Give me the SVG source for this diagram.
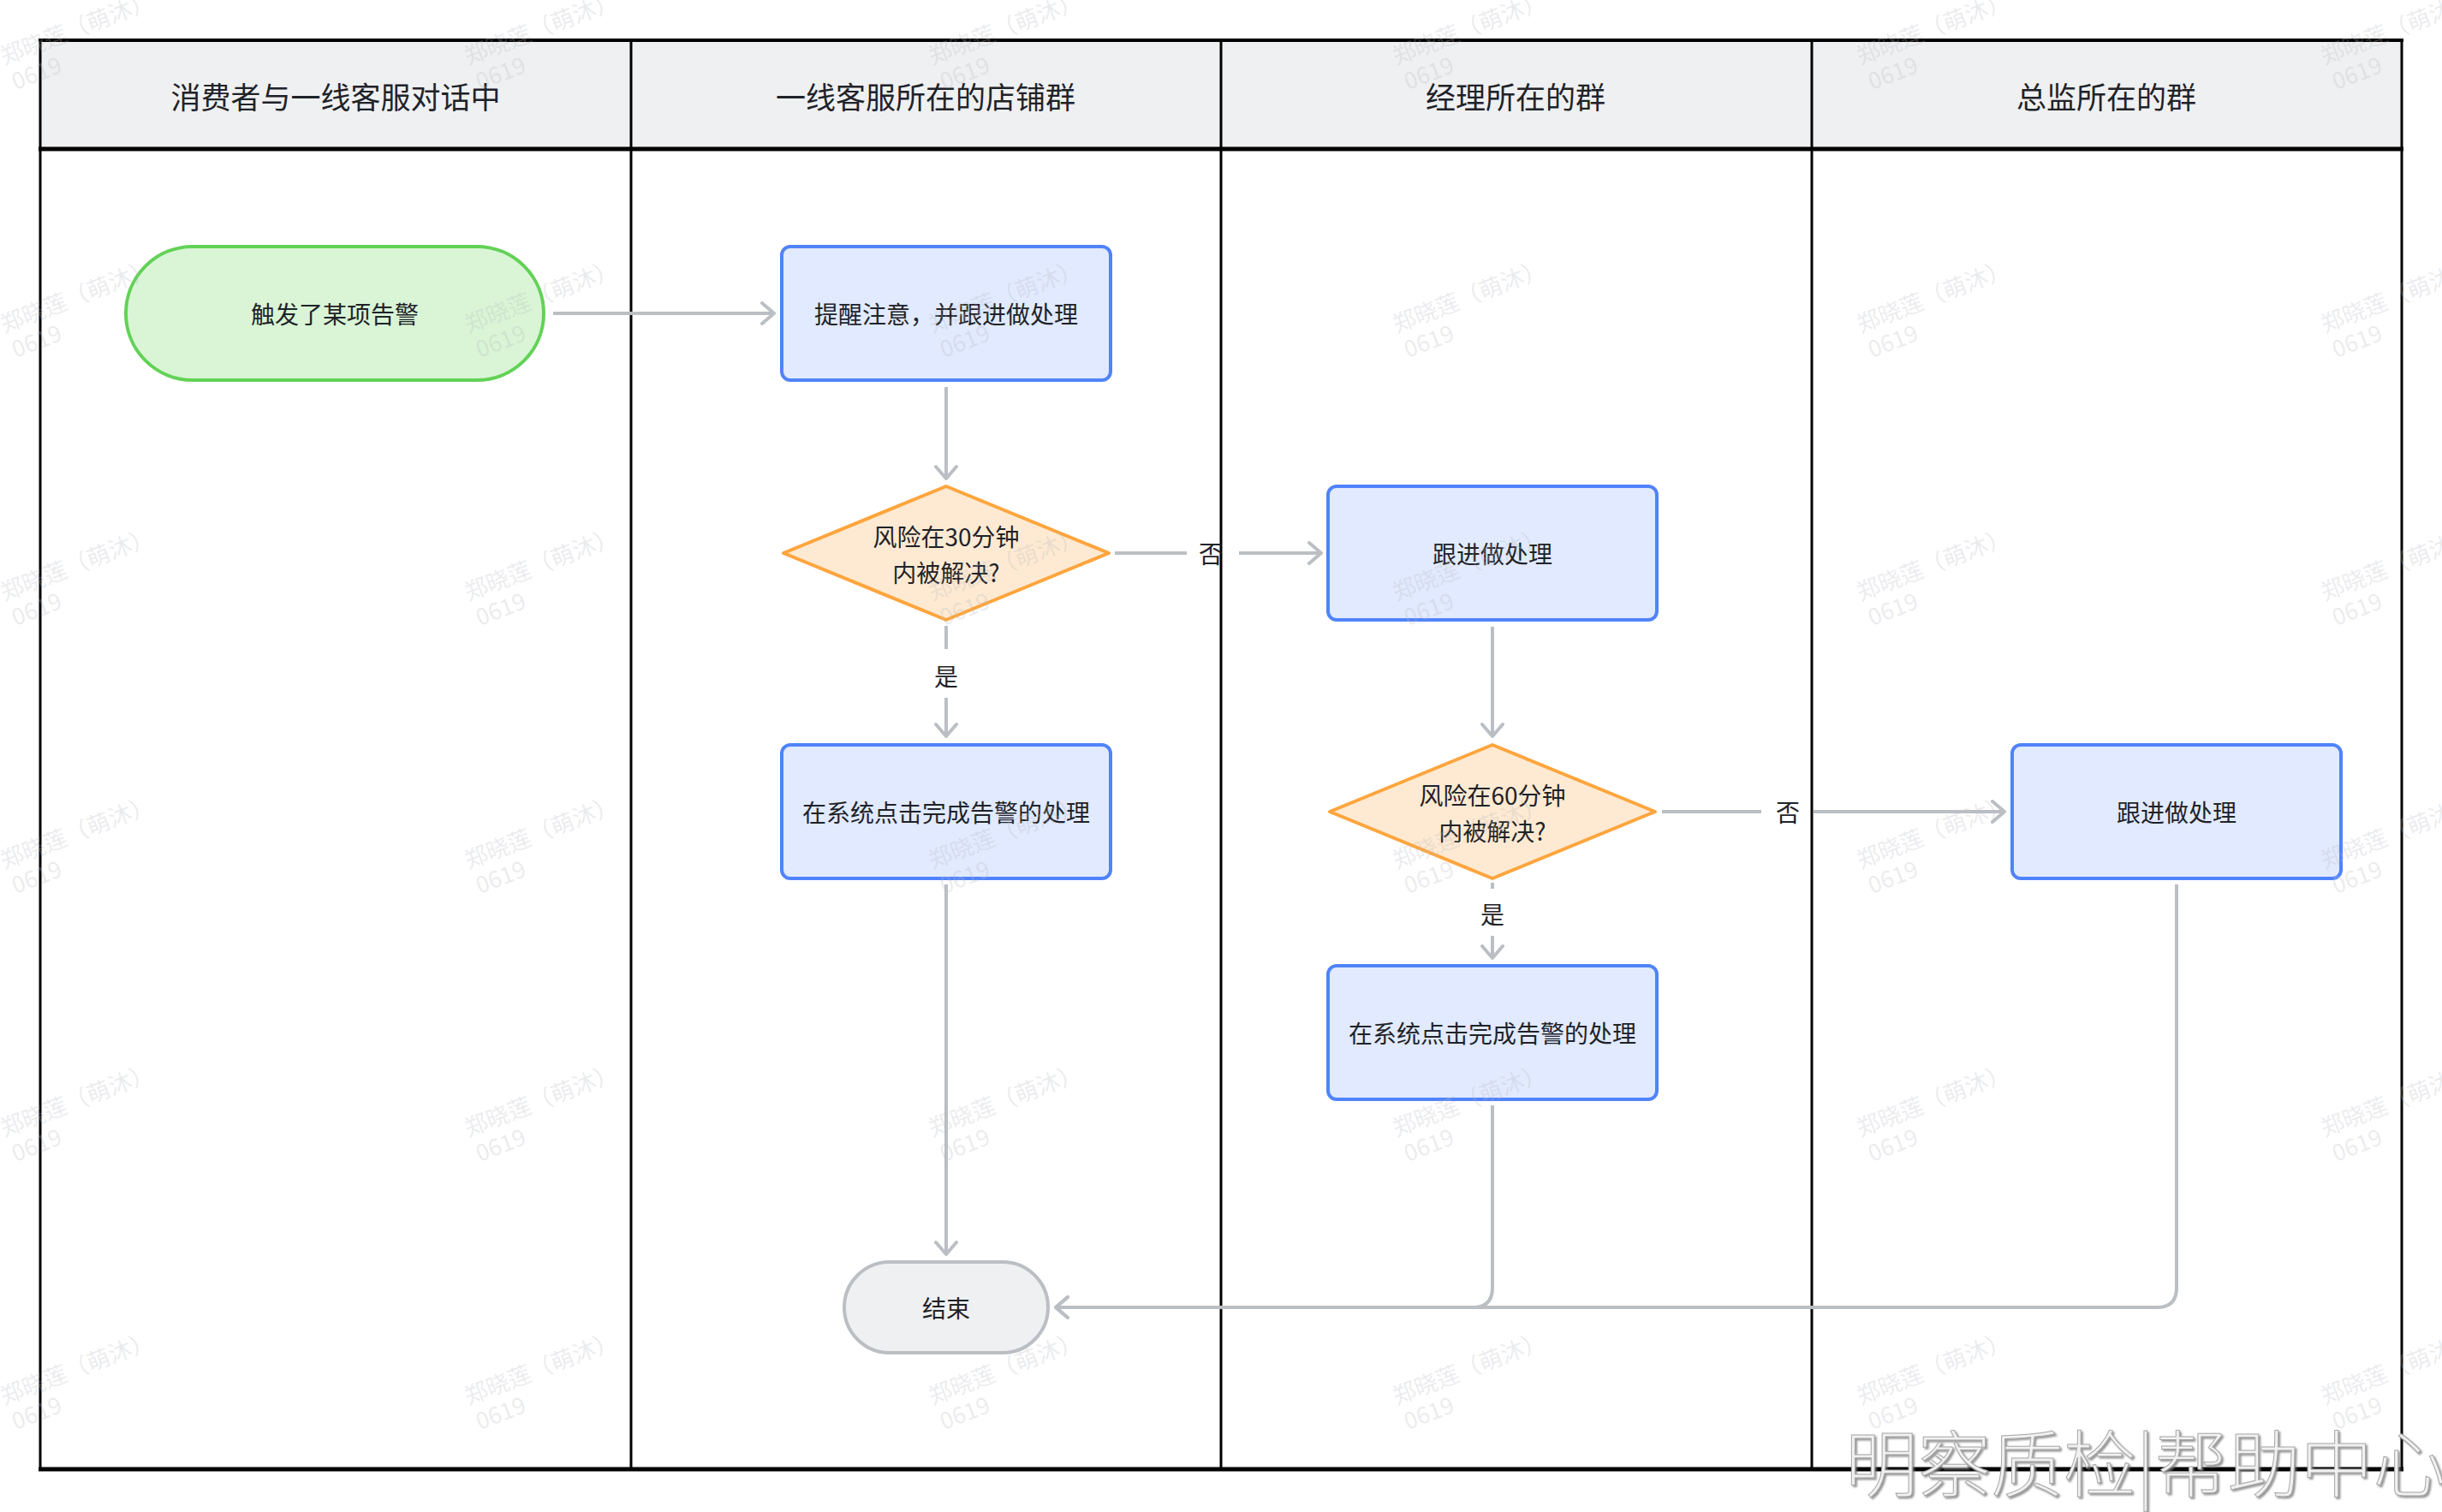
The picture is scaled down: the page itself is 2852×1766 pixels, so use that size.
<svg xmlns="http://www.w3.org/2000/svg" xmlns:xlink="http://www.w3.org/1999/xlink" width="2852" height="1766" viewBox="0 0 2852 1766">
<style>
  text { font-family: "Noto Sans CJK SC", "Noto Sans", "Liberation Sans", sans-serif; fill: #1f2329; }
  .hdr { font-size: 35px; text-anchor: middle; dominant-baseline: central; }
  .lbl { font-size: 28px; text-anchor: middle; dominant-baseline: central; }
  .box { fill: #e1eaff; stroke: #5083fb; stroke-width: 4; }
  .dia { fill: #feead2; stroke: #ffa53d; stroke-width: 4; stroke-linejoin: round; }
  .start { fill: #d9f5d6; stroke: #62d256; stroke-width: 4; }
  .end { fill: #eff0f1; stroke: #bbbfc4; stroke-width: 4; }
  .con { fill: none; stroke: #bbbfc4; stroke-width: 4; }
  .wmt { fill: #b8bbbf; fill-opacity: 0.28; font-size: 27px; }
  .logo { font-size: 85px; font-weight: 300; fill: #f1f1f1; stroke: #a9a9a9; stroke-width: 1; }
</style>
<defs>
  <marker id="arr" markerUnits="userSpaceOnUse" viewBox="0 0 30 28" markerWidth="30" markerHeight="28" refX="17" refY="14" orient="auto">
    <path d="M3,2 L17,14 L3,26" fill="none" stroke="#bbbfc4" stroke-width="4" stroke-linecap="round" stroke-linejoin="round"/>
  </marker>
  <filter id="emb" x="-5%" y="-20%" width="110%" height="140%">
    <feDropShadow dx="2" dy="2" stdDeviation="0.8" flood-color="#7a7a7a" flood-opacity="0.8"/>
  </filter>
  <g id="wmk">
    <text class="wmt" x="0" y="0" fill="#b8bbbf" fill-opacity="0.28" font-size="27">郑晓莲（萌沐）</text>
    <text class="wmt" x="2" y="32" fill="#b8bbbf" fill-opacity="0.28" font-size="27">0619</text>
  </g>
</defs>

<rect width="2852" height="1766" fill="#ffffff"/>

<g id="lanes">
  <rect x="47" y="47" width="2758" height="127" fill="#eff0f1"/>
  <line x1="45" y1="47" x2="2807" y2="47" stroke="#000" stroke-width="4"/>
  <line x1="45" y1="174" x2="2807" y2="174" stroke="#000" stroke-width="5"/>
  <line x1="45" y1="1716" x2="2807" y2="1716" stroke="#000" stroke-width="5"/>
  <line x1="47" y1="45" x2="47" y2="1718" stroke="#000" stroke-width="3"/>
  <line x1="737" y1="47" x2="737" y2="1716" stroke="#000" stroke-width="3"/>
  <line x1="1426" y1="47" x2="1426" y2="1716" stroke="#000" stroke-width="3"/>
  <line x1="2116" y1="47" x2="2116" y2="1716" stroke="#000" stroke-width="3"/>
  <line x1="2805" y1="45" x2="2805" y2="1718" stroke="#000" stroke-width="3"/>
  <text class="hdr" x="392" y="111">消费者与一线客服对话中</text>
  <text class="hdr" x="1081" y="111">一线客服所在的店铺群</text>
  <text class="hdr" x="1770" y="111">经理所在的群</text>
  <text class="hdr" x="2460" y="111">总监所在的群</text>
</g>

<g id="connectors">
  <path class="con" d="M646,366 L904,366" marker-end="url(#arr)"/>
  <path class="con" d="M1105,452 L1105,559" marker-end="url(#arr)"/>
  <path class="con" d="M1302,646 L1386,646"/>
  <path class="con" d="M1447,646 L1543,646" marker-end="url(#arr)"/>
  <text class="lbl" x="1414" y="646">否</text>
  <path class="con" d="M1105,731 L1105,758"/>
  <path class="con" d="M1105,815 L1105,860" marker-end="url(#arr)"/>
  <text class="lbl" x="1105" y="789">是</text>
  <path class="con" d="M1105,1033 L1105,1465" marker-end="url(#arr)"/>
  <path class="con" d="M1743,732 L1743,860" marker-end="url(#arr)"/>
  <path class="con" d="M1941,948 L2057,948"/>
  <path class="con" d="M2118,948 L2341,948" marker-end="url(#arr)"/>
  <text class="lbl" x="2088" y="948">否</text>
  <path class="con" d="M1743,1031 L1743,1038"/>
  <path class="con" d="M1743,1093 L1743,1119" marker-end="url(#arr)"/>
  <text class="lbl" x="1743" y="1067">是</text>
  <path class="con" d="M1743,1291 L1743,1504 Q1743,1527 1720,1527 L1233,1527" marker-end="url(#arr)"/>
  <path class="con" d="M2542,1033 L2542,1504 Q2542,1527 2519,1527 L1233,1527" marker-end="url(#arr)"/>
</g>

<g id="n-start">
  <rect class="start" x="147" y="288" width="488" height="156" rx="78" ry="78"/>
  <text class="lbl" x="391" y="366">触发了某项告警</text>
</g>
<g id="n-remind">
  <rect class="box" x="913" y="288" width="384" height="156" rx="10"/>
  <text class="lbl" x="1105" y="366">提醒注意，并跟进做处理</text>
</g>
<g id="n-dec30">
  <polygon class="dia" points="1105,568 1295,646 1105,724 915,646"/>
  <text class="lbl" x="1105" y="626">风险在30分钟</text>
  <text class="lbl" x="1105" y="668">内被解决?</text>
</g>
<g id="n-done1">
  <rect class="box" x="913" y="870" width="384" height="156" rx="10"/>
  <text class="lbl" x="1105" y="948">在系统点击完成告警的处理</text>
</g>
<g id="n-end">
  <rect class="end" x="986" y="1474" width="238" height="106" rx="53" ry="53"/>
  <text class="lbl" x="1105" y="1527">结束</text>
</g>
<g id="n-mgr">
  <rect class="box" x="1551" y="568" width="384" height="156" rx="10"/>
  <text class="lbl" x="1743" y="646">跟进做处理</text>
</g>
<g id="n-dec60">
  <polygon class="dia" points="1743,870 1933,948 1743,1026 1553,948"/>
  <text class="lbl" x="1743" y="928">风险在60分钟</text>
  <text class="lbl" x="1743" y="970">内被解决?</text>
</g>
<g id="n-done2">
  <rect class="box" x="1551" y="1128" width="384" height="156" rx="10"/>
  <text class="lbl" x="1743" y="1206">在系统点击完成告警的处理</text>
</g>
<g id="n-dir">
  <rect class="box" x="2350" y="870" width="384" height="156" rx="10"/>
  <text class="lbl" x="2542" y="948">跟进做处理</text>
</g>

<g id="watermarks">
  <use xlink:href="#wmk" transform="translate(5,76) rotate(-21)"/>
  <use xlink:href="#wmk" transform="translate(547,76) rotate(-21)"/>
  <use xlink:href="#wmk" transform="translate(1089,76) rotate(-21)"/>
  <use xlink:href="#wmk" transform="translate(1631,76) rotate(-21)"/>
  <use xlink:href="#wmk" transform="translate(2173,76) rotate(-21)"/>
  <use xlink:href="#wmk" transform="translate(2715,76) rotate(-21)"/>
  <use xlink:href="#wmk" transform="translate(5,389) rotate(-21)"/>
  <use xlink:href="#wmk" transform="translate(547,389) rotate(-21)"/>
  <use xlink:href="#wmk" transform="translate(1089,389) rotate(-21)"/>
  <use xlink:href="#wmk" transform="translate(1631,389) rotate(-21)"/>
  <use xlink:href="#wmk" transform="translate(2173,389) rotate(-21)"/>
  <use xlink:href="#wmk" transform="translate(2715,389) rotate(-21)"/>
  <use xlink:href="#wmk" transform="translate(5,702) rotate(-21)"/>
  <use xlink:href="#wmk" transform="translate(547,702) rotate(-21)"/>
  <use xlink:href="#wmk" transform="translate(1089,702) rotate(-21)"/>
  <use xlink:href="#wmk" transform="translate(1631,702) rotate(-21)"/>
  <use xlink:href="#wmk" transform="translate(2173,702) rotate(-21)"/>
  <use xlink:href="#wmk" transform="translate(2715,702) rotate(-21)"/>
  <use xlink:href="#wmk" transform="translate(5,1015) rotate(-21)"/>
  <use xlink:href="#wmk" transform="translate(547,1015) rotate(-21)"/>
  <use xlink:href="#wmk" transform="translate(1089,1015) rotate(-21)"/>
  <use xlink:href="#wmk" transform="translate(1631,1015) rotate(-21)"/>
  <use xlink:href="#wmk" transform="translate(2173,1015) rotate(-21)"/>
  <use xlink:href="#wmk" transform="translate(2715,1015) rotate(-21)"/>
  <use xlink:href="#wmk" transform="translate(5,1328) rotate(-21)"/>
  <use xlink:href="#wmk" transform="translate(547,1328) rotate(-21)"/>
  <use xlink:href="#wmk" transform="translate(1089,1328) rotate(-21)"/>
  <use xlink:href="#wmk" transform="translate(1631,1328) rotate(-21)"/>
  <use xlink:href="#wmk" transform="translate(2173,1328) rotate(-21)"/>
  <use xlink:href="#wmk" transform="translate(2715,1328) rotate(-21)"/>
  <use xlink:href="#wmk" transform="translate(5,1641) rotate(-21)"/>
  <use xlink:href="#wmk" transform="translate(547,1641) rotate(-21)"/>
  <use xlink:href="#wmk" transform="translate(1089,1641) rotate(-21)"/>
  <use xlink:href="#wmk" transform="translate(1631,1641) rotate(-21)"/>
  <use xlink:href="#wmk" transform="translate(2173,1641) rotate(-21)"/>
  <use xlink:href="#wmk" transform="translate(2715,1641) rotate(-21)"/>
</g>

<g id="logo">
  <text class="logo" x="2155" y="1742" filter="url(#emb)">明察质检|帮助中心</text>
</g>
</svg>
